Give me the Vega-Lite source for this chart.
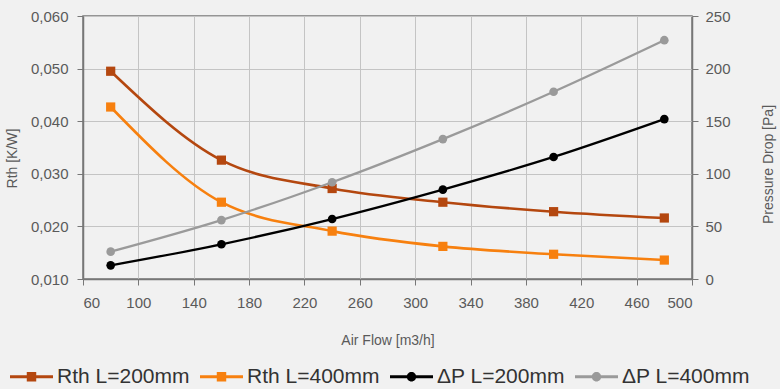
{
  "$schema": "https://vega.github.io/schema/vega-lite/v6.json",
  "width": 609,
  "height": 263,
  "autosize": {"type": "none"},
  "padding": {"left": 83, "top": 16, "right": 88, "bottom": 110},
  "background": "#f1f1f1",
  "datasets": {
    "rth": [
      {"flow": 80, "series": "Rth L=200mm", "value": 0.0495},
      {"flow": 160, "series": "Rth L=200mm", "value": 0.0326},
      {"flow": 240, "series": "Rth L=200mm", "value": 0.0272},
      {"flow": 320, "series": "Rth L=200mm", "value": 0.0246},
      {"flow": 400, "series": "Rth L=200mm", "value": 0.0228},
      {"flow": 480, "series": "Rth L=200mm", "value": 0.0216},
      {"flow": 80, "series": "Rth L=400mm", "value": 0.0427},
      {"flow": 160, "series": "Rth L=400mm", "value": 0.0246},
      {"flow": 240, "series": "Rth L=400mm", "value": 0.0191},
      {"flow": 320, "series": "Rth L=400mm", "value": 0.0162},
      {"flow": 400, "series": "Rth L=400mm", "value": 0.0147},
      {"flow": 480, "series": "Rth L=400mm", "value": 0.0136}
    ],
    "dp": [
      {"flow": 80, "series": "ΔP L=200mm", "value": 13},
      {"flow": 160, "series": "ΔP L=200mm", "value": 33},
      {"flow": 240, "series": "ΔP L=200mm", "value": 57},
      {"flow": 320, "series": "ΔP L=200mm", "value": 85},
      {"flow": 400, "series": "ΔP L=200mm", "value": 116},
      {"flow": 480, "series": "ΔP L=200mm", "value": 152},
      {"flow": 80, "series": "ΔP L=400mm", "value": 26},
      {"flow": 160, "series": "ΔP L=400mm", "value": 56},
      {"flow": 240, "series": "ΔP L=400mm", "value": 92},
      {"flow": 320, "series": "ΔP L=400mm", "value": 133},
      {"flow": 400, "series": "ΔP L=400mm", "value": 178},
      {"flow": 480, "series": "ΔP L=400mm", "value": 227}
    ]
  },
  "config": {
    "view": {"stroke": "#777777", "strokeWidth": 1.5},
    "font": "Liberation Sans",
    "axis": {
      "labelFont": "Liberation Sans",
      "titleFont": "Liberation Sans",
      "labelColor": "#5a5a5a",
      "titleColor": "#5a5a5a",
      "labelFontSize": 15,
      "titleFontSize": 14,
      "titleFontWeight": "normal",
      "domainColor": "#777777",
      "domainWidth": 1.5,
      "tickColor": "#777777",
      "tickSize": 6,
      "gridColor": "#c4c4c4",
      "gridWidth": 1
    }
  },
  "encoding": {
    "x": {
      "field": "flow",
      "type": "quantitative",
      "scale": {"domain": [60, 500], "nice": false, "zero": false},
      "axis": {
        "title": "Air Flow [m3/h]",
        "values": [60, 100, 140, 180, 220, 260, 300, 340, 380, 420, 460, 500],
        "labelPadding": 10,
        "titleFontSize": 14,
        "titleY": 61,
        "titleBaseline": "middle",
        "grid": true
      }
    },
    "color": {
      "field": "series",
      "type": "nominal",
      "scale": {
        "domain": ["Rth L=200mm", "Rth L=400mm", "ΔP L=200mm", "ΔP L=400mm"],
        "range": ["#b4470f", "#f7800f", "#000000", "#9a9a9a"]
      },
      "legend": {
        "orient": "none",
        "legendX": -73,
        "legendY": 339,
        "direction": "horizontal",
        "columns": 4,
        "title": null,
        "labelFont": "Liberation Sans",
        "labelFontSize": 21,
        "labelColor": "#333333",
        "labelOffset": 4,
        "columnPadding": 10,
        "symbolSize": 1849,
        "symbolStrokeWidth": 0,
        "encode": {
          "symbols": {
            "update": {
              "shape": {"signal": "indexof(datum.value, 'Rth') === 0 ? 'M-1,-0.07H1V0.07H-1Z M-0.22,-0.22H0.22V0.22H-0.22Z' : 'M-1,-0.07H1V0.07H-1Z M0.22,0A0.22,0.22 0 1,1 -0.22,0A0.22,0.22 0 1,1 0.22,0Z'"},
              "fill": {"scale": "color", "field": "value"},
              "stroke": {"value": "transparent"},
              "opacity": {"value": 1}
            }
          }
        }
      }
    }
  },
  "layer": [
    {
      "data": {"name": "rth"},
      "encoding": {
        "y": {
          "field": "value",
          "type": "quantitative",
          "scale": {"domain": [0.01, 0.06], "nice": false, "zero": false},
          "axis": {
            "title": "Rth [K/W]",
            "orient": "left",
            "values": [0.01, 0.02, 0.03, 0.04, 0.05, 0.06],
            "labelExpr": "replace(format(datum.value, '.3f'), '.', ',')",
            "labelPadding": 9,
            "grid": true,
            "titleX": -71,
            "titleY": 142,
            "titleBaseline": "middle",
            "titleAngle": -90
          }
        }
      },
      "layer": [
        {"mark": {"type": "line", "interpolate": "monotone", "strokeWidth": 2.6}},
        {"mark": {"type": "point", "shape": "square", "filled": true, "size": 85, "opacity": 1}}
      ]
    },
    {
      "data": {"name": "dp"},
      "encoding": {
        "y": {
          "field": "value",
          "type": "quantitative",
          "scale": {"domain": [0, 250], "nice": false, "zero": false},
          "axis": {
            "title": "Pressure Drop [Pa]",
            "orient": "right",
            "values": [0, 50, 100, 150, 200, 250],
            "labelPadding": 7,
            "grid": false,
            "titleX": 76,
            "titleY": 148,
            "titleBaseline": "middle",
            "titleAngle": -90
          }
        }
      },
      "layer": [
        {"mark": {"type": "line", "interpolate": "monotone", "strokeWidth": 2.3}},
        {"mark": {"type": "point", "shape": "circle", "filled": true, "size": 75, "opacity": 1}}
      ]
    }
  ],
  "resolve": {"scale": {"y": "independent"}}
}
